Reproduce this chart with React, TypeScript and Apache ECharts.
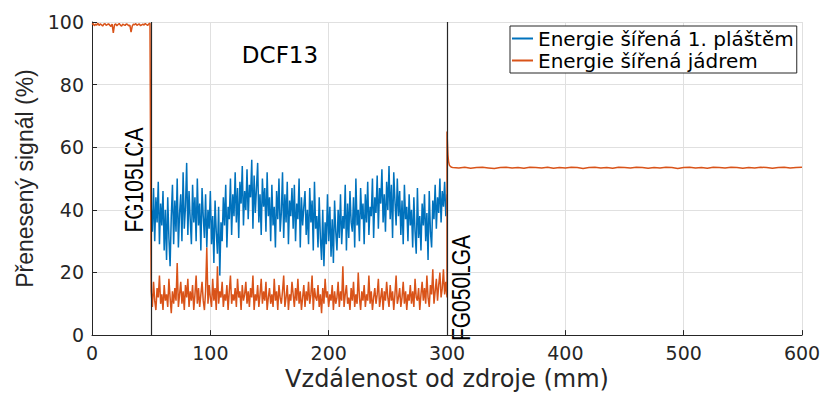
import React, { useEffect, useRef } from "react";
import * as echarts from "echarts";

// x from 50 to 300 step 1
const claddingStart = 50;
const claddingValues = [
  41, 33, 47, 30, 44, 36, 49, 29, 42, 35,
  46, 27, 40, 24, 44, 31, 22, 38, 48, 29,
  43, 33, 50, 28, 39, 45, 30, 52, 34, 41,
  55, 32, 46, 37, 29, 48, 36, 44, 30, 50,
  35, 42, 27, 47, 38, 31, 45, 28, 40, 34,
  46, 29, 38, 23, 43, 33, 26, 41, 19, 36,
  30, 44, 35, 48, 28, 41, 37, 50, 32, 45,
  38, 52, 36, 47, 31, 49, 42, 54, 35, 46,
  40, 53, 37, 48, 44, 56, 34, 51, 39, 47,
  55, 36, 45, 32, 50, 41, 47, 33, 52, 38,
  44, 30, 48, 35, 41, 28, 46, 37, 50, 33,
  39, 52, 31, 45, 36, 49, 29, 43, 38, 47,
  34, 48, 30, 42, 37, 50, 28, 44, 35, 41,
  46, 32, 40, 29, 47, 36, 43, 27, 49, 34,
  38, 28, 44, 31, 24, 40, 22, 36, 29, 45,
  30, 41, 25, 37, 23, 43, 33, 27, 40, 31,
  45, 29, 38, 34, 48, 27, 42, 31, 46, 36,
  33, 44, 28, 50, 35, 40, 30, 47, 37, 42,
  29, 45, 36, 49, 32, 41, 38, 50, 31, 44,
  39, 51, 34, 47, 42, 53, 36, 45, 33, 49,
  40, 54, 37, 48, 31, 52, 43, 35, 50, 38,
  46, 32, 43, 29, 48, 37, 41, 30, 45, 35,
  40, 28, 44, 33, 26, 47, 31, 38, 27, 42,
  35, 45, 30, 39, 24, 46, 33, 28, 43, 37,
  48, 34, 44, 39, 50, 36, 46, 41, 49, 38, 45,
];

// core energy, x from 0 to 49 step 1
const coreHeadStart = 0;
const coreHeadValues = [
  99.2, 99.5, 98.8, 99.3, 99.0, 99.6, 98.9, 99.4, 99.1, 98.7,
  99.3, 99.5, 98.9, 99.2, 99.4, 99.0, 98.6, 99.3, 96.5, 99.1,
  99.4, 98.8, 99.2, 99.5, 99.0, 98.7, 99.3, 99.1, 98.9, 99.4,
  99.2, 98.8, 99.0, 96.8, 98.7, 99.3, 99.1, 99.5, 98.9, 99.2,
  99.4, 98.8, 99.1, 99.3, 99.0, 99.5, 99.2, 98.9, 99.4, 99.6,
];

// core energy, x from 50 to 300 step 1
const coreMidStart = 50;
const coreMidValues = [
  14, 9, 17, 11, 8, 15, 12, 19, 10, 13,
  8, 16, 11, 13, 9, 18, 12, 7, 14, 10,
  15, 11, 23, 9, 13, 17, 10, 14, 8, 16,
  12, 18, 9, 14, 11, 16, 8, 13, 19, 10,
  15, 9, 13, 17, 11, 8, 14, 28, 10, 16,
  12, 9, 18, 11, 15, 8, 22, 10, 14, 12,
  17, 9, 13, 11, 16, 8, 14, 19, 10, 13,
  11, 15, 9, 18, 12, 14, 8, 16, 11, 13,
  17, 10, 14, 9, 15, 12, 19, 8, 13, 11,
  16, 9, 13, 18, 10, 14, 11, 17, 8, 12,
  15, 10, 13, 9, 18, 11, 14, 8, 16, 12,
  10, 14, 19, 9, 12, 16, 8, 13, 11, 17,
  13, 9, 15, 11, 18, 10, 14, 8, 12, 16,
  9, 14, 11, 17, 10, 13, 19, 8, 15, 12,
  11, 16, 9, 13, 7, 15, 10, 18, 12, 14,
  9, 13, 11, 16, 8, 14, 10, 12, 17, 9,
  14, 11, 22, 9, 13, 16, 10, 12, 8, 15,
  11, 17, 9, 13, 10, 20, 12, 8, 14, 11,
  16, 9, 13, 11, 19, 10, 14, 8, 12, 15,
  10, 13, 18, 9, 12, 15, 8, 14, 11, 17,
  12, 9, 16, 11, 14, 8, 13, 19, 10, 12,
  15, 9, 12, 17, 10, 14, 8, 13, 11, 16,
  10, 14, 9, 18, 12, 11, 15, 8, 13, 17,
  11, 15, 10, 19, 12, 9, 16, 13, 21, 10,
  14, 18, 11, 16, 20, 12, 15, 21, 13, 17, 12,
];

// core energy peak after the second splice
const corePeakX = [300, 300.4, 300.8, 301.3, 302, 303, 304];
const corePeakValues = [65, 61, 57.5, 55.5, 54.3, 53.8, 53.6];

// core energy, x from 305 to 600 step 5
const coreTailStart = 305;
const coreTailStep = 5;
const coreTailValues = [
  53.5, 53.4, 53.6, 53.3, 53.5, 53.6, 53.4, 53.2, 53.5, 53.6,
  53.4, 53.5, 53.3, 53.6, 53.5, 53.4, 53.6, 53.3, 53.5, 53.4,
  53.6, 53.5, 53.2, 53.5, 53.6, 53.4, 53.5, 53.3, 53.6, 53.5,
  53.4, 53.6, 53.5, 53.3, 53.5, 53.4, 53.6, 53.5, 53.2, 53.5,
  53.6, 53.4, 53.5, 53.3, 53.6, 53.5, 53.4, 53.6, 53.5, 53.3,
  53.5, 53.4, 53.6, 53.5, 53.3, 53.5, 53.6, 53.4, 53.5, 53.6,
];

const spliceLines = [50, 300];
const seriesNames = ["Energie šířená 1. pláštěm", "Energie šířená jádrem"];
const annotations = ["FG105LCA", "FG050LGA", "DCF13"];
const xTitle = "Vzdálenost od zdroje (mm)";
const yTitle = "Přenesený signál (%)";

const BLUE = "#0072BD";
const ORANGE = "#D95319";
const INK = "#262626";
const GRID = "#e0e0e0";
const SANS = "'DejaVu Sans', sans-serif";
const NARROW = "'Liberation Sans', Arial, sans-serif";

export default function App() {
  const ref = useRef<HTMLDivElement>(null);

  useEffect(() => {
    if (!ref.current) return;
    const chart = echarts.init(ref.current, null, { renderer: "svg" });

    const blueData = claddingValues.map((v, i) => [claddingStart + i, v]);
    const orangeData = [
      ...coreHeadValues.map((v, i) => [coreHeadStart + i, v]),
      ...coreMidValues.map((v, i) => [coreMidStart + i, v]),
      ...corePeakValues.map((v, i) => [corePeakX[i], v]),
      ...coreTailValues.map((v, i) => [coreTailStart + i * coreTailStep, v]),
    ];

    chart.setOption({
      animation: false,
      backgroundColor: "#ffffff",
      grid: { left: 92, right: 22, top: 22, bottom: 56, containLabel: false },
      legend: {
        left: 510,
        top: 26,
        orient: "vertical",
        icon: "rect",
        itemWidth: 21,
        itemHeight: 2,
        itemGap: 1,
        padding: [2, 3, 2, 2],
        backgroundColor: "#ffffff",
        borderColor: INK,
        borderWidth: 1,
        borderRadius: 0,
        textStyle: { fontFamily: SANS, fontSize: 20, color: "#000", lineHeight: 21 },
        data: seriesNames,
      },
      xAxis: {
        type: "value",
        min: 0,
        max: 600,
        interval: 100,
        name: xTitle,
        nameLocation: "middle",
        nameGap: 30,
        nameTextStyle: { fontFamily: SANS, fontSize: 24, color: INK },
        axisLine: { show: true, onZero: false, lineStyle: { color: INK, width: 1 } },
        axisTick: { show: true, inside: true, length: 5, lineStyle: { color: INK } },
        axisLabel: { fontFamily: SANS, fontSize: 19, color: INK, margin: 8 },
        splitLine: { show: true, lineStyle: { color: GRID, width: 1 } },
      },
      yAxis: {
        type: "value",
        min: 0,
        max: 100,
        interval: 20,
        name: yTitle,
        nameLocation: "middle",
        nameGap: 54,
        nameTextStyle: { fontFamily: NARROW, fontSize: 23, color: INK },
        axisLine: { show: true, lineStyle: { color: INK, width: 1 } },
        axisTick: { show: true, inside: true, length: 5, lineStyle: { color: INK } },
        axisLabel: { fontFamily: SANS, fontSize: 19, color: INK, margin: 8 },
        splitLine: { show: true, lineStyle: { color: GRID, width: 1 } },
      },
      series: [
        {
          name: seriesNames[0],
          type: "line",
          data: blueData,
          showSymbol: false,
          symbol: "none",
          color: BLUE,
          lineStyle: { color: BLUE, width: 1.5 },
        },
        {
          name: seriesNames[1],
          type: "line",
          data: orangeData,
          showSymbol: false,
          symbol: "none",
          color: ORANGE,
          lineStyle: { color: ORANGE, width: 1.5 },
          markLine: {
            silent: true,
            symbol: "none",
            label: { show: false },
            lineStyle: { color: INK, width: 1.2, type: "solid" },
            data: spliceLines.map((x) => ({ xAxis: x })),
          },
        },
      ],
      graphic: [
        {
          type: "text",
          x: 134,
          y: 180,
          rotation: Math.PI / 2,
          scaleY: 1.25,
          style: {
            text: annotations[0],
            fontFamily: NARROW,
            fontSize: 21,
            fill: "#000",
            align: "center",
            verticalAlign: "middle",
          },
        },
        {
          type: "text",
          x: 461,
          y: 288,
          rotation: Math.PI / 2,
          scaleY: 1.25,
          style: {
            text: annotations[1],
            fontFamily: NARROW,
            fontSize: 21,
            fill: "#000",
            align: "center",
            verticalAlign: "middle",
          },
        },
        {
          type: "text",
          x: 280,
          y: 55,
          style: {
            text: annotations[2],
            fontFamily: SANS,
            fontSize: 23,
            fill: "#000",
            align: "center",
            verticalAlign: "middle",
          },
        },
      ],
    });

    return () => chart.dispose();
  }, []);

  return (
    <div
      ref={ref}
      style={{ position: "fixed", left: 0, top: 0, width: 824, height: 396, background: "#fff" }}
    />
  );
}
